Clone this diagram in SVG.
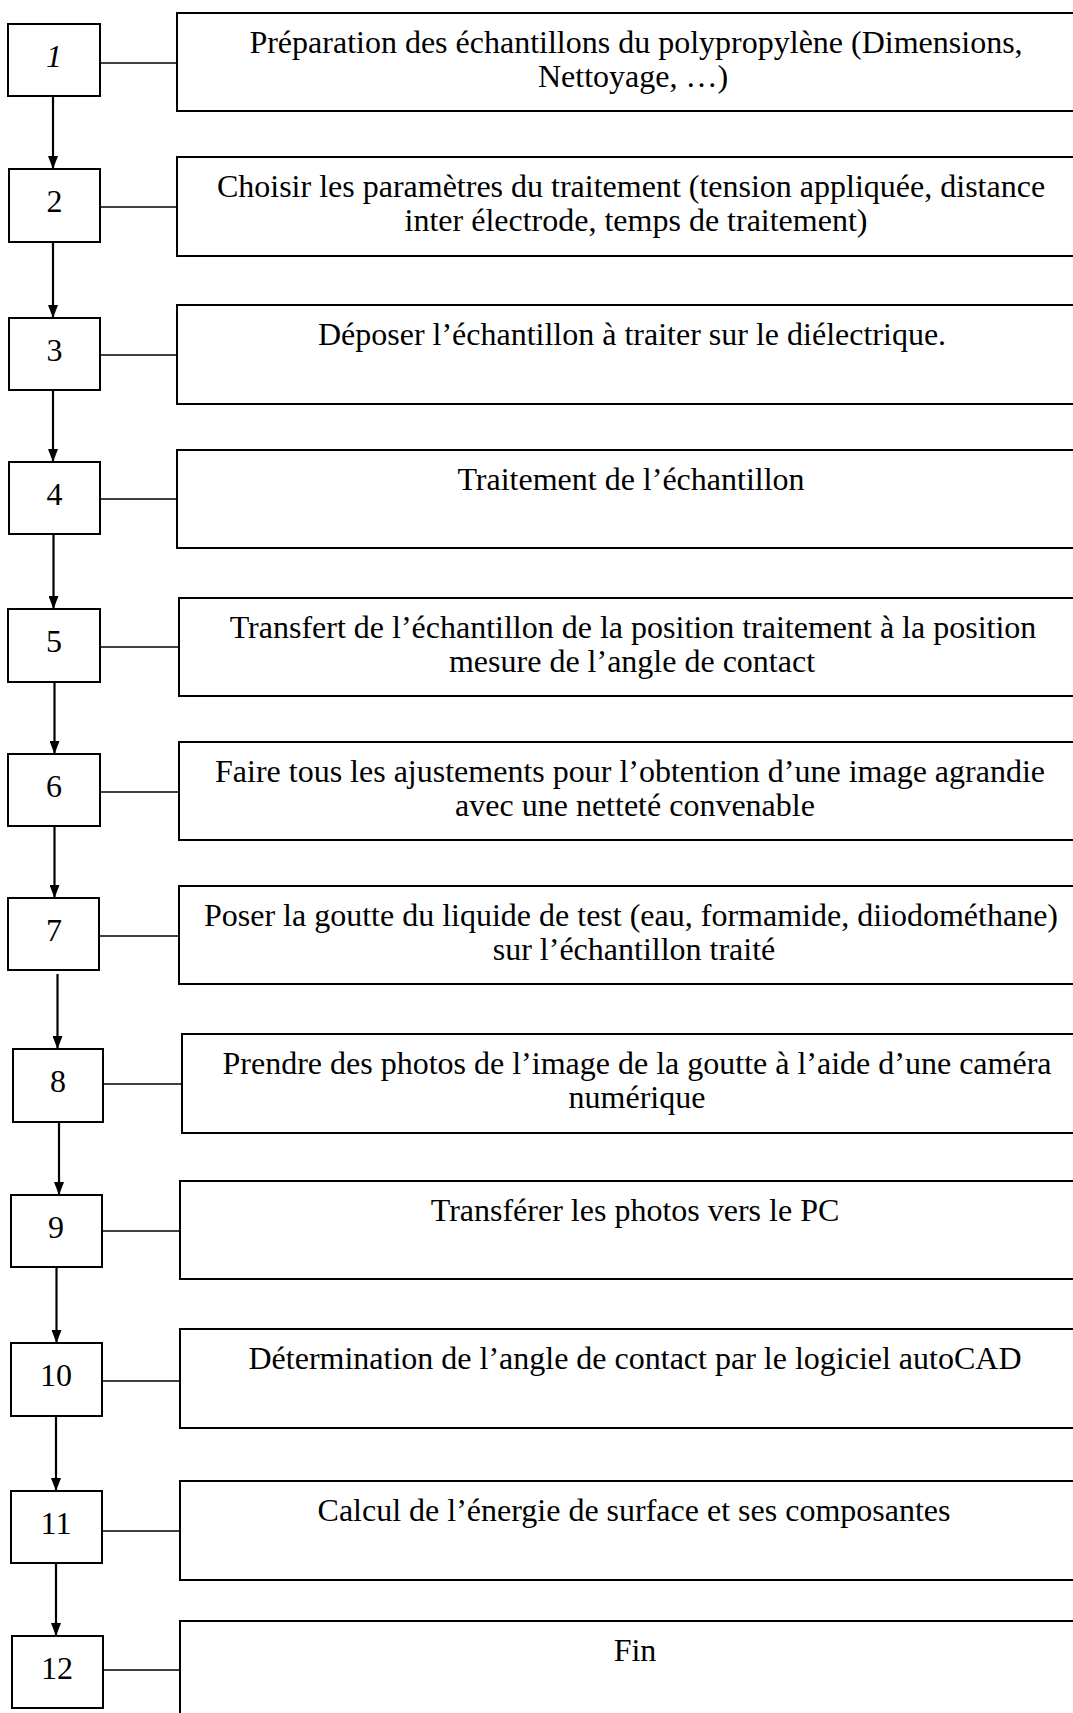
<svg xmlns="http://www.w3.org/2000/svg" width="1073" height="1713" viewBox="0 0 1073 1713">
<defs>
<style>
.b{fill:#fff;stroke:#000;stroke-width:2}
.t{font-family:"Liberation Serif","Times New Roman",serif;font-size:32px;fill:#000;text-anchor:middle}
.n{font-family:"Liberation Serif","Times New Roman",serif;font-size:32px;fill:#000;text-anchor:middle}
.c{stroke:#000;stroke-width:1.6;fill:none}
.a{stroke:#000;stroke-width:2.2;fill:none}
</style>
<marker id="ah" markerWidth="14" markerHeight="10" refX="13" refY="5" orient="auto" markerUnits="userSpaceOnUse" viewBox="0 0 14 10"><path d="M0,0 L13,5 L0,10 Z" fill="#000"/></marker>
</defs>
<rect width="1073" height="1713" fill="#fff"/>
<g id="connectors">
<line class="c" x1="100" y1="63" x2="177" y2="63"/>
<line class="c" x1="100" y1="207" x2="177" y2="207"/>
<line class="c" x1="100" y1="355" x2="177" y2="355"/>
<line class="c" x1="100" y1="499" x2="177" y2="499"/>
<line class="c" x1="100" y1="647" x2="179" y2="647"/>
<line class="c" x1="100" y1="792" x2="179" y2="792"/>
<line class="c" x1="99" y1="936" x2="179" y2="936"/>
<line class="c" x1="103" y1="1084" x2="182" y2="1084"/>
<line class="c" x1="102" y1="1231" x2="180" y2="1231"/>
<line class="c" x1="102" y1="1381" x2="180" y2="1381"/>
<line class="c" x1="102" y1="1531" x2="180" y2="1531"/>
<line class="c" x1="103" y1="1670" x2="180" y2="1670"/>
<path class="a" d="M53,96 V169" marker-end="url(#ah)"/>
<path class="a" d="M53,242 V318" marker-end="url(#ah)"/>
<path class="a" d="M53,390 V462" marker-end="url(#ah)"/>
<path class="a" d="M53.5,534 V609" marker-end="url(#ah)"/>
<path class="a" d="M54.5,682 V754" marker-end="url(#ah)"/>
<path class="a" d="M54.5,826 V898" marker-end="url(#ah)"/>
<path class="a" d="M57.5,974 V1049" marker-end="url(#ah)"/>
<path class="a" d="M59,1122 V1195" marker-end="url(#ah)"/>
<path class="a" d="M56.5,1267 V1343" marker-end="url(#ah)"/>
<path class="a" d="M56,1416 V1491" marker-end="url(#ah)"/>
<path class="a" d="M56,1563 V1636" marker-end="url(#ah)"/>
</g>
<g id="n1"><rect class="b" x="8" y="24" width="92" height="72"/><text class="n" x="54" y="67" font-style="italic">1</text></g>
<g id="s1"><rect class="b" x="177" y="13" width="910" height="98"/><text class="t" x="636" y="53">Préparation des échantillons du polypropylène (Dimensions,</text><text class="t" x="633" y="87">Nettoyage, …)</text></g>
<g id="n2"><rect class="b" x="9" y="169" width="91" height="73"/><text class="n" x="54.5" y="212">2</text></g>
<g id="s2"><rect class="b" x="177" y="157" width="910" height="99"/><text class="t" x="631" y="197">Choisir les paramètres du traitement (tension appliquée, distance</text><text class="t" x="636" y="231">inter électrode, temps de traitement)</text></g>
<g id="n3"><rect class="b" x="9" y="318" width="91" height="72"/><text class="n" x="54.5" y="361">3</text></g>
<g id="s3"><rect class="b" x="177" y="305" width="910" height="99"/><text class="t" x="632" y="345">Déposer l’échantillon à traiter sur le diélectrique.</text></g>
<g id="n4"><rect class="b" x="9" y="462" width="91" height="72"/><text class="n" x="54.5" y="505">4</text></g>
<g id="s4"><rect class="b" x="177" y="450" width="910" height="98"/><text class="t" x="631" y="490">Traitement de l’échantillon</text></g>
<g id="n5"><rect class="b" x="8" y="609" width="92" height="73"/><text class="n" x="54" y="652">5</text></g>
<g id="s5"><rect class="b" x="179" y="598" width="908" height="98"/><text class="t" x="633" y="638">Transfert de l’échantillon de la position traitement à la position</text><text class="t" x="632" y="672">mesure de l’angle de contact</text></g>
<g id="n6"><rect class="b" x="8" y="754" width="92" height="72"/><text class="n" x="54" y="797">6</text></g>
<g id="s6"><rect class="b" x="179" y="742" width="908" height="98"/><text class="t" x="630" y="782">Faire tous les ajustements pour l’obtention d’une image agrandie</text><text class="t" x="635" y="816">avec une netteté convenable</text></g>
<g id="n7"><rect class="b" x="8" y="898" width="91" height="72"/><text class="n" x="54" y="941">7</text></g>
<g id="s7"><rect class="b" x="179" y="886" width="908" height="98"/><text class="t" x="631" y="926">Poser la goutte du liquide de test (eau, formamide, diiodométhane)</text><text class="t" x="634" y="960">sur l’échantillon traité</text></g>
<g id="n8"><rect class="b" x="13" y="1049" width="90" height="73"/><text class="n" x="58" y="1092">8</text></g>
<g id="s8"><rect class="b" x="182" y="1034" width="905" height="99"/><text class="t" x="637" y="1074">Prendre des photos de l’image de la goutte à l’aide d’une caméra</text><text class="t" x="637" y="1108">numérique</text></g>
<g id="n9"><rect class="b" x="11" y="1195" width="91" height="72"/><text class="n" x="56" y="1238">9</text></g>
<g id="s9"><rect class="b" x="180" y="1181" width="907" height="98"/><text class="t" x="635" y="1221">Transférer les photos vers le PC</text></g>
<g id="n10"><rect class="b" x="11" y="1343" width="91" height="73"/><text class="n" x="56" y="1386">10</text></g>
<g id="s10"><rect class="b" x="180" y="1329" width="907" height="99"/><text class="t" x="635" y="1369">Détermination de l’angle de contact par le logiciel autoCAD</text></g>
<g id="n11"><rect class="b" x="11" y="1491" width="91" height="72"/><text class="n" x="56" y="1534">11</text></g>
<g id="s11"><rect class="b" x="180" y="1481" width="907" height="99"/><text class="t" x="634" y="1521">Calcul de l’énergie de surface et ses composantes</text></g>
<g id="n12"><rect class="b" x="12" y="1636" width="91" height="72"/><text class="n" x="57" y="1679">12</text></g>
<g id="s12"><rect class="b" x="180" y="1621" width="907" height="110"/><text class="t" x="635" y="1661">Fin</text></g>
</svg>
